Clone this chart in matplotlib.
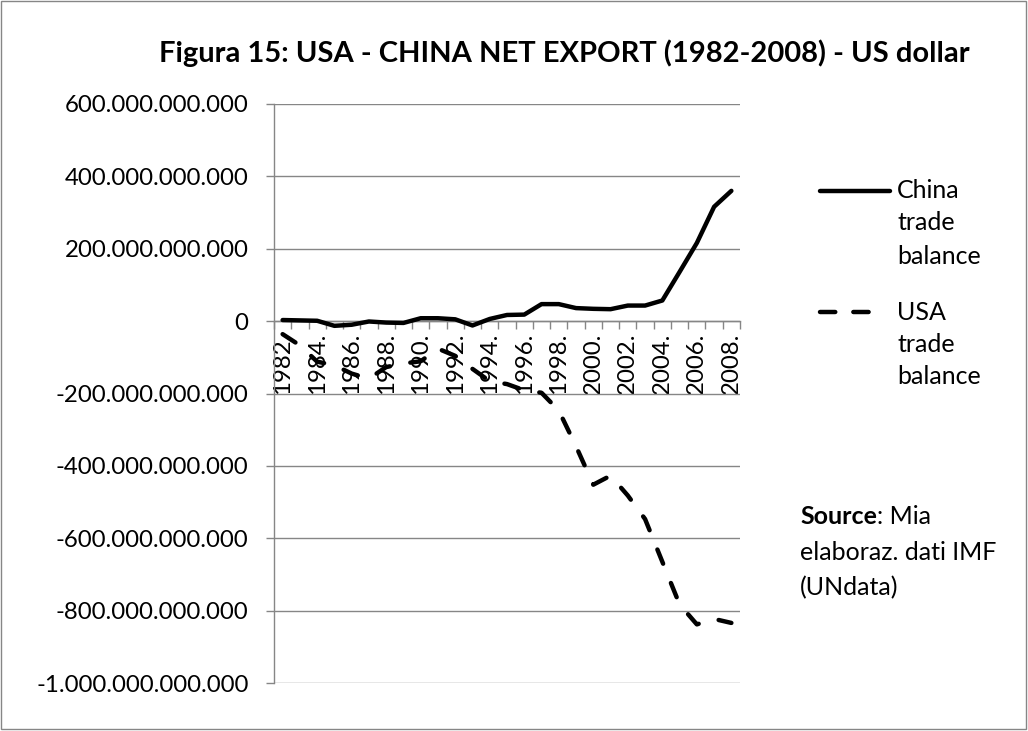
import matplotlib
matplotlib.use("Agg")
import matplotlib.pyplot as plt
from matplotlib.lines import Line2D
from matplotlib.patches import Rectangle
from matplotlib.ticker import FixedLocator, FuncFormatter

years = list(range(1982, 2009))
china_bn = [3, 2, 1, -13, -10, -1, -4, -5, 8, 8, 5, -12, 6, 17, 18, 47, 47,
            36, 34, 33, 43, 43, 57, 136, 216, 316, 360]
usa_bn = [-36, -67, -112, -122, -145, -159, -127, -117, -111, -76, -96, -132,
          -166, -174, -191, -198, -247, -346, -452, -427, -482, -547, -665,
          -783, -838, -823, -834]
china = [v * 1e9 for v in china_bn]
usa = [v * 1e9 for v in usa_bn]
tick_labels = [f"{y}." for y in years]
yticks = [6e11, 4e11, 2e11, 0, -2e11, -4e11, -6e11, -8e11, -1e12]
title = "Figura 15: USA - CHINA NET EXPORT (1982-2008) - US dollar"

W, H = 1028, 731
FONT = "Lato"
FS = 17.3
FS_TXT = 18
GREY = "#868686"

plt.rcParams["font.family"] = [FONT, "DejaVu Sans"]
plt.rcParams["lines.scale_dashes"] = False

fig = plt.figure(figsize=(W / 100, H / 100), dpi=100)


def fx(px):
    return px / W


def fy(py):
    return 1 - py / H


ax = fig.add_axes([fx(274), fy(683), fx(740) - fx(274), fy(104) - fy(683)])
x = list(range(len(years)))

ax.plot(x, usa, color="black", lw=3.2, dashes=(11.0, 15.0),
        dash_capstyle="round", solid_capstyle="round", zorder=4)
ax.plot(x, china, color="black", lw=3.2, solid_capstyle="round",
        solid_joinstyle="round", zorder=4)

ax.set_xlim(-0.5, len(years) - 0.5)
ax.set_ylim(-1e12, 6e11)

# y axis
ax.yaxis.set_major_locator(FixedLocator(yticks))
ax.yaxis.set_major_formatter(
    FuncFormatter(lambda v, p: f"{int(round(v)):,}".replace(",", ".")))
ax.tick_params(axis="y", which="major", length=5.8, width=1.0, color=GREY,
               labelsize=FS, pad=12.5, direction="out")
ax.grid(axis="y", color=GREY, lw=1.0)
ax.set_axisbelow(True)

# x axis crossing at zero
ax.spines["bottom"].set_position(("data", 0))
for s in ["top", "right"]:
    ax.spines[s].set_visible(False)
for s in ["left", "bottom"]:
    ax.spines[s].set_color(GREY)
    ax.spines[s].set_linewidth(1.0)

ax.xaxis.set_major_locator(FixedLocator(x[::2]))
ax.set_xticklabels(tick_labels[::2], rotation=90, fontsize=FS)
ax.xaxis.set_minor_locator(FixedLocator([i - 0.5 for i in range(len(years) + 1)]))
ax.tick_params(axis="x", which="major", length=0, pad=8.5)
ax.tick_params(axis="x", which="minor", length=5.8, width=1.0, color=GREY,
               direction="out")

# title
fig.text(fx(564), fy(53), title, fontsize=21, fontweight="bold",
         ha="center", va="center")

# legend (manual)
fig.add_artist(Line2D([fx(820), fx(890)], [fy(191), fy(191)], color="black",
                      lw=3.2, solid_capstyle="round"))
fig.add_artist(Line2D([fx(820), fx(875)], [fy(312), fy(312)], color="black",
                      lw=3.2, dashes=(11.0, 13.0), dash_capstyle="round"))
for txt, yy in [("China", 191), ("trade", 223), ("balance", 256),
                ("USA", 312), ("trade", 344), ("balance", 377)]:
    fig.text(fx(897), fy(yy), txt, fontsize=FS_TXT, ha="left", va="center")

# source note
src = fig.text(fx(800), fy(517), "Source", fontsize=FS_TXT, fontweight="bold",
               ha="left", va="center")
fig.canvas.draw()
bb = src.get_window_extent()
fig.text(bb.x1 / W, fy(517), ": Mia", fontsize=FS_TXT, ha="left", va="center")
fig.text(fx(800), fy(553), "elaboraz. dati IMF", fontsize=FS_TXT, ha="left",
         va="center")
fig.text(fx(800), fy(588), "(UNdata)", fontsize=FS_TXT, ha="left", va="center")

# chart border
fig.add_artist(Rectangle((fx(1), fy(729)), fx(1025), fy(1) - fy(729),
                         transform=fig.transFigure, fill=False,
                         edgecolor=GREY, lw=1.0))

fig.savefig("out.png", dpi=100)
